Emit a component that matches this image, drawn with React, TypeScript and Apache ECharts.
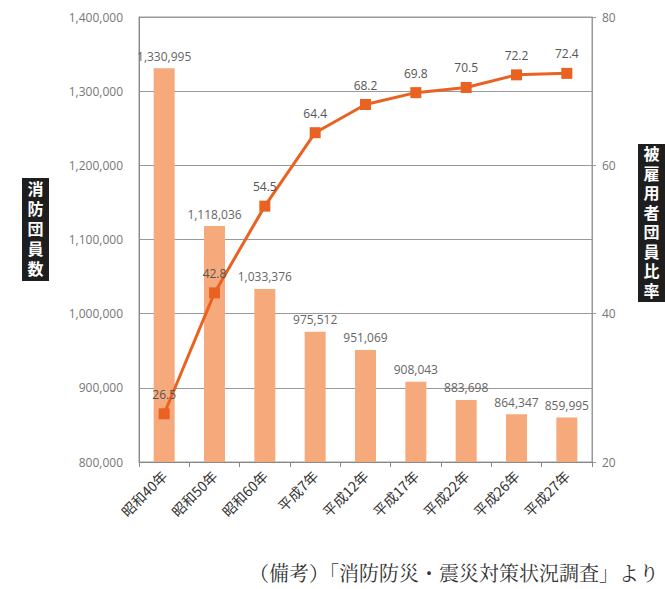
import React, { useEffect, useRef } from "react";
import * as echarts from "echarts";

const categories = ["昭和40年", "昭和50年", "昭和60年", "平成7年", "平成12年", "平成17年", "平成22年", "平成26年", "平成27年"];
const members = [1330995, 1118036, 1033376, 975512, 951069, 908043, 883698, 864347, 859995];
const employedRatio = [26.5, 42.8, 54.5, 64.4, 68.2, 69.8, 70.5, 72.2, 72.4];
const leftAxisTitle = "消防団員数";
const rightAxisTitle = "被雇用者団員比率";
const footnote = "（備考）「消防防災・震災対策状況調査」より";

const fmt = (v: number) => v.toLocaleString("en-US");

export default function App() {
  const ref = useRef<HTMLDivElement>(null);
  useEffect(() => {
    const chart = echarts.init(ref.current!, null, { renderer: "svg" });
    const font = "'Open Sans', 'Noto Sans CJK JP', sans-serif";
    const cjk = "'Noto Sans CJK JP', sans-serif";
    const verticalTitle = (title: string, cx: number, top: number, step: number) =>
      title.split("").map((ch, i) => ({
        type: "text",
        x: cx,
        y: top + step * (i + 0.5),
        style: {
          text: ch,
          fill: "#fff",
          fontSize: 16,
          fontWeight: "bold",
          lineHeight: 17,
          fontFamily: "'DejaVu Sans', 'Noto Sans CJK JP', sans-serif",
          align: "center",
          verticalAlign: "middle",
        },
      }));
    chart.setOption({
      animation: false,
      backgroundColor: "#fff",
      grid: { left: 139, right: 73, top: 17, bottom: 127, show: true, borderColor: "#999", borderWidth: 1 },
      xAxis: {
        type: "category",
        data: categories,
        axisLine: { lineStyle: { color: "#888" } },
        axisTick: { show: true, lineStyle: { color: "#888" }, length: 5 },
        axisLabel: { rotate: 45, color: "#333", fontSize: 14, fontFamily: cjk, margin: 11 },
      },
      yAxis: [
        {
          type: "value",
          min: 800000,
          max: 1400000,
          interval: 100000,
          axisLine: { show: true, lineStyle: { color: "#888" } },
          axisTick: { show: false },
          splitLine: { lineStyle: { color: "#999" } },
          axisLabel: { color: "#777", fontSize: 12, fontFamily: font, formatter: (v: number) => fmt(v), margin: 16 },
        },
        {
          type: "value",
          min: 20,
          max: 80,
          interval: 20,
          axisLine: { show: true, lineStyle: { color: "#999" } },
          axisTick: { show: true, inside: false, length: 4, lineStyle: { color: "#999" } },
          splitLine: { show: false },
          axisLabel: { color: "#777", fontSize: 12, fontFamily: font, margin: 10 },
        },
      ],
      series: [
        {
          type: "bar",
          data: members,
          barWidth: 21,
          itemStyle: { color: "#F6AA7C" },
          label: {
            show: true,
            position: "top",
            distance: 6,
            color: "#666",
            fontSize: 12,
            fontFamily: font,
            formatter: (p: any) => fmt(p.value),
          },
          z: 1,
        },
        {
          type: "line",
          yAxisIndex: 1,
          data: employedRatio,
          symbol: "rect",
          symbolSize: 11,
          lineStyle: { color: "#EA6221", width: 3 },
          itemStyle: { color: "#EA6221" },
          label: {
            show: true,
            position: "top",
            distance: 8,
            color: "#555",
            fontSize: 12,
            fontFamily: font,
          },
          z: 3,
        },
      ],
      graphic: [
        { type: "rect", shape: { x: 22, y: 178, width: 27, height: 103 }, style: { fill: "#1e1e1e" } },
        ...verticalTitle(leftAxisTitle, 35.5, 180, 19.8),
        { type: "rect", shape: { x: 638, y: 144, width: 27, height: 158 }, style: { fill: "#1e1e1e" } },
        ...verticalTitle(rightAxisTitle, 651.5, 145, 19.5),
        {
          type: "text",
          x: 249,
          y: 572,
          style: {
            text: footnote,
            fill: "#333",
            fontSize: 20,
            fontFamily: "'Noto Serif CJK JP', serif",
            verticalAlign: "middle",
          },
        },
      ],
    });
    return () => chart.dispose();
  }, []);
  return <div ref={ref} style={{ position: "absolute", left: 0, top: 0, width: 665, height: 589 }} />;
}
